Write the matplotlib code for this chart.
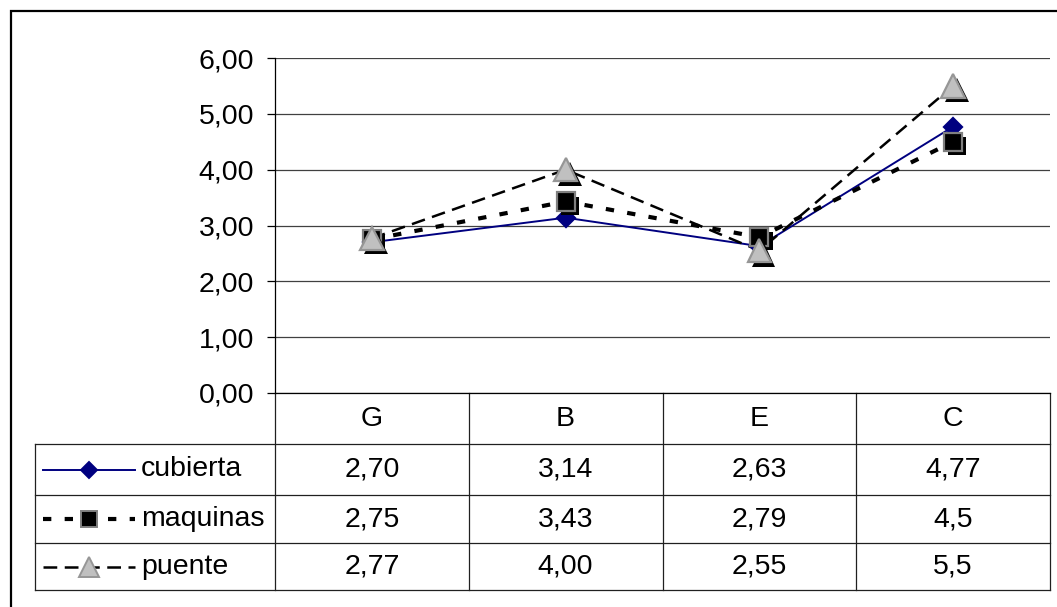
import matplotlib
matplotlib.use('Agg')
import matplotlib.pyplot as plt
import matplotlib.patheffects as pe
from matplotlib.patches import Rectangle
from matplotlib.lines import Line2D
from matplotlib.ticker import FuncFormatter
from matplotlib.transforms import blended_transform_factory

plt.rcParams['font.family'] = ['Liberation Sans', 'DejaVu Sans']

categories = ['G', 'B', 'E', 'C']
series_names = ['cubierta', 'maquinas', 'puente']
cubierta = [2.70, 3.14, 2.63, 4.77]
maquinas = [2.75, 3.43, 2.79, 4.5]
puente = [2.77, 4.00, 2.55, 5.5]
table_text = [['2,70', '3,14', '2,63', '4,77'],
              ['2,75', '3,43', '2,79', '4,5'],
              ['2,77', '4,00', '2,55', '5,5']]
yticks = [0, 1, 2, 3, 4, 5, 6]

W, H = 1057, 607
# layout in pixels
AX_L, AX_R, AX_T, AX_B = 275, 1050, 58, 393
TAB_L = 35
row_edges = [393, 444, 495, 543, 590]
FS = 20.5

fig = plt.figure(figsize=(W / 100, H / 100), dpi=100)
ax = fig.add_axes([AX_L / W, 1 - AX_B / H, (AX_R - AX_L) / W, (AX_B - AX_T) / H])

# outer chart border (right/bottom cut off in the reference)
fig.patches.append(Rectangle((10.5 / W, -0.1), 1.2, 1.1 - 10.5 / H, transform=fig.transFigure,
                             fill=False, edgecolor='black', linewidth=1.6))

x = list(range(len(categories)))
styles = [
    dict(color='#000080', lw=1.4, ls='-', marker='D', ms=9.5, mfc='#000080', mec='#000080', shadow=False),
    dict(color='black', lw=3.0, ls=(0, (2.0, 3.2)), marker='s', ms=13, mfc='black', mec='#808080', shadow=True),
    dict(color='black', lw=1.8, ls=(0, (5.5, 3)), marker='^', ms=17, mfc='#c0c0c0', mec='#969696', shadow=True),
]
data = [cubierta, maquinas, puente]

for vals, st in zip(data, styles):
    ax.plot(x, vals, color=st['color'], lw=st['lw'], ls=st['ls'], zorder=3)
    peff = [pe.SimplePatchShadow(offset=(3, -3), shadow_rgbFace='black', alpha=1.0), pe.Normal()] if st['shadow'] else None
    ax.plot(x, vals, ls='none', marker=st['marker'], ms=st['ms'], mfc=st['mfc'], mec=st['mec'],
            mew=1.6, zorder=4, path_effects=peff)

ax.set_xlim(-0.5, len(categories) - 0.5)
ax.set_ylim(0, 6)
ax.set_yticks(yticks)
ax.yaxis.set_major_formatter(FuncFormatter(lambda v, p: '{0:.2f}'.format(v).replace('.', ',')))
ax.tick_params(axis='y', direction='out', length=6, width=0.9, labelsize=FS, pad=9, colors='black')
ax.set_xticks([])
ax.grid(axis='y', color='#404040', lw=0.9)
ax.set_axisbelow(True)
for s in ['top', 'right']:
    ax.spines[s].set_visible(False)
ax.spines['left'].set_linewidth(0.9)
ax.spines['bottom'].set_linewidth(0.9)

# data table below the plot
def fx(px):
    return (px - AX_L) / (AX_R - AX_L)

def fy(py):
    return (AX_B - py) / (AX_B - AX_T)

bt = blended_transform_factory(ax.transData, ax.transAxes)
tcol = '#202020'
# horizontal lines
for py in row_edges[1:]:
    ax.add_line(Line2D([fx(TAB_L), 1], [fy(py)] * 2, transform=ax.transAxes, color=tcol, lw=0.9, clip_on=False))
# vertical lines
for i in range(len(categories) + 1):
    ax.add_line(Line2D([i - 0.5] * 2, [fy(row_edges[0]), fy(row_edges[-1])], transform=bt, color=tcol, lw=0.9, clip_on=False))
ax.add_line(Line2D([fx(TAB_L)] * 2, [fy(row_edges[1]), fy(row_edges[-1])], transform=ax.transAxes, color=tcol, lw=0.9, clip_on=False))

hdr_y = fy((row_edges[0] + row_edges[1]) / 2)
for i, c in enumerate(categories):
    ax.text(i, hdr_y, c, transform=bt, ha='center', va='center', fontsize=FS)

for r, (name, st) in enumerate(zip(series_names, styles)):
    cy = fy((row_edges[r + 1] + row_edges[r + 2]) / 2)
    ax.add_line(Line2D([fx(43), fx(135)], [cy, cy], transform=ax.transAxes, color=st['color'],
                       lw=st['lw'], ls=st['ls'], clip_on=False))
    ax.add_line(Line2D([fx(89)], [cy], transform=ax.transAxes, ls='none', marker=st['marker'],
                       ms=st['ms'] * 0.85, mfc=st['mfc'], mec=st['mec'], mew=1.4, clip_on=False))
    ax.text(fx(141), cy, name, transform=ax.transAxes, ha='left', va='center', fontsize=FS)
    for i, t in enumerate(table_text[r]):
        ax.text(i, cy, t, transform=bt, ha='center', va='center', fontsize=FS)

fig.savefig('out.png', dpi=100)
